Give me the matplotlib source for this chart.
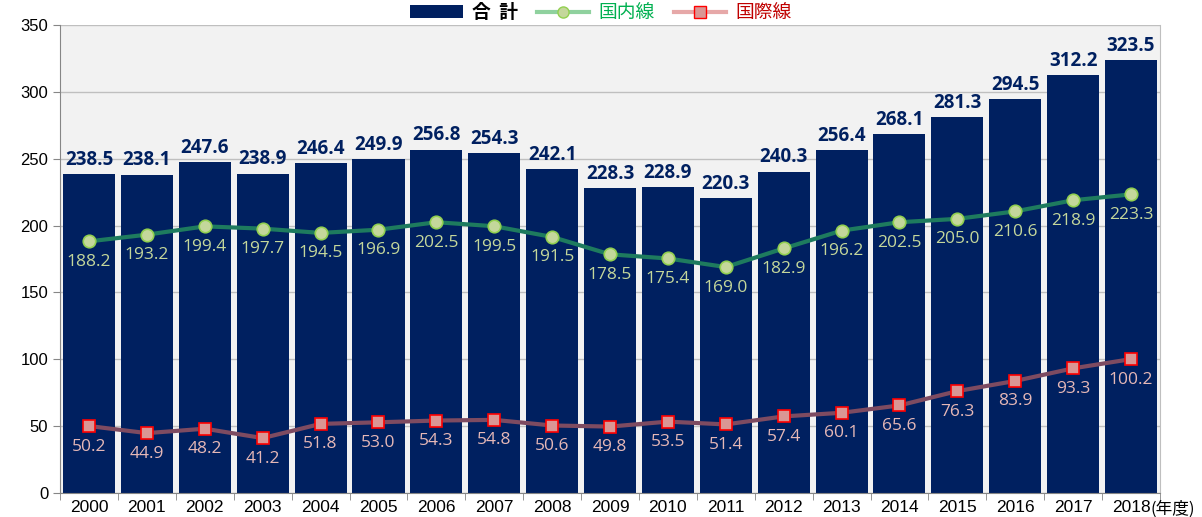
import matplotlib
matplotlib.use("Agg")
import matplotlib.pyplot as plt
from matplotlib.lines import Line2D
from matplotlib.patches import Patch

plt.rcParams['font.family'] = ['Liberation Sans', 'Noto Sans CJK JP', 'DejaVu Sans']

years = ['2000', '2001', '2002', '2003', '2004', '2005', '2006', '2007', '2008', '2009',
         '2010', '2011', '2012', '2013', '2014', '2015', '2016', '2017', '2018']
total = [238.5, 238.1, 247.6, 238.9, 246.4, 249.9, 256.8, 254.3, 242.1, 228.3,
         228.9, 220.3, 240.3, 256.4, 268.1, 281.3, 294.5, 312.2, 323.5]
domestic = [188.2, 193.2, 199.4, 197.7, 194.5, 196.9, 202.5, 199.5, 191.5, 178.5,
            175.4, 169.0, 182.9, 196.2, 202.5, 205.0, 210.6, 218.9, 223.3]
international = [50.2, 44.9, 48.2, 41.2, 51.8, 53.0, 54.3, 54.8, 50.6, 49.8,
                 53.5, 51.4, 57.4, 60.1, 65.6, 76.3, 83.9, 93.3, 100.2]
yticks = [0, 50, 100, 150, 200, 250, 300, 350]

fig = plt.figure(figsize=(12.02, 5.17), dpi=100)
ax = fig.add_axes([0.05, 0.046, 0.915, 0.906])
ax.set_facecolor('#F2F2F2')

x = list(range(len(years)))
ax.bar(x, total, width=0.9, color='#002060', zorder=2)
ax.plot(x, domestic, color='#1E7B5E', lw=3, marker='o', ms=9,
        mfc='#C4D79B', mec='#92D050', mew=1.2, zorder=3)
ax.plot(x, international, color='#7E4B61', lw=3, marker='s', ms=8,
        mfc='#DA9694', mec='#FF0000', mew=1.2, zorder=3)

for xi, v in zip(x, total):
    ax.annotate(f'{v:.1f}', (xi, v), xytext=(0, 3), textcoords='offset points',
                ha='center', va='bottom', fontsize=13.5, fontweight='bold',
                color='#002060', family=['Open Sans', 'DejaVu Sans'])
for xi, v in zip(x, domestic):
    ax.annotate(f'{v:.1f}', (xi, v), xytext=(0, -9), textcoords='offset points',
                ha='center', va='top', fontsize=12.5, color='#C4D79B',
                family=['Open Sans', 'DejaVu Sans'], zorder=4)
for xi, v in zip(x, international):
    ax.annotate(f'{v:.1f}', (xi, v), xytext=(0, -9), textcoords='offset points',
                ha='center', va='top', fontsize=12.5, color='#E6B8B7',
                family=['Open Sans', 'DejaVu Sans'], zorder=4)

ax.set_xlim(-0.5, len(years) - 0.5)
ax.set_ylim(0, 350)
ax.set_yticks(yticks)
ax.yaxis.grid(True, color='#BFBFBF', lw=1, zorder=1)
ax.set_axisbelow(True)

bounds = [i - 0.5 for i in range(len(years) + 1)]
ax.set_xticks(bounds, minor=True)
ax.set_xticks(x)
ax.set_xticklabels(years, fontsize=12.5)
ax.tick_params(axis='x', which='major', length=0, pad=5)
ax.tick_params(axis='x', which='minor', length=5, color='#868686')
ax.tick_params(axis='y', length=5, color='#868686', labelsize=12)
for s in ['left', 'bottom']:
    ax.spines[s].set_color('#868686')
ax.spines['top'].set_visible(False)
ax.spines['right'].set_color('#BFBFBF')

ax.annotate('(年度)', (len(years) - 0.5, 0), xytext=(-7, -5), textcoords='offset points',
            ha='left', va='top', fontsize=12, family=['Noto Sans CJK JP'],
            annotation_clip=False)

handles = [Patch(facecolor='#002060'),
           Line2D([], [], color='#8FD19E', lw=3, marker='o', ms=8, mfc='#C4D79B', mec='#92D050'),
           Line2D([], [], color='#E6A8A8', lw=3, marker='s', ms=8, mfc='#DA9694', mec='#FF0000')]
labels = ['合  計', '国内線', '国際線']
leg = fig.legend(handles, labels, loc='center', bbox_to_anchor=(0.5, 0.975), ncol=3,
                 frameon=False, handlelength=2.8, columnspacing=1.0,
                 handletextpad=0.5, prop={'family': 'Noto Sans CJK JP', 'size': 13.5})
cols = ['black', '#00B050', '#C00000']
for t, c in zip(leg.get_texts(), cols):
    t.set_color(c)
leg.get_texts()[0].set_fontweight('bold')

fig.savefig('out.png', dpi=100)
